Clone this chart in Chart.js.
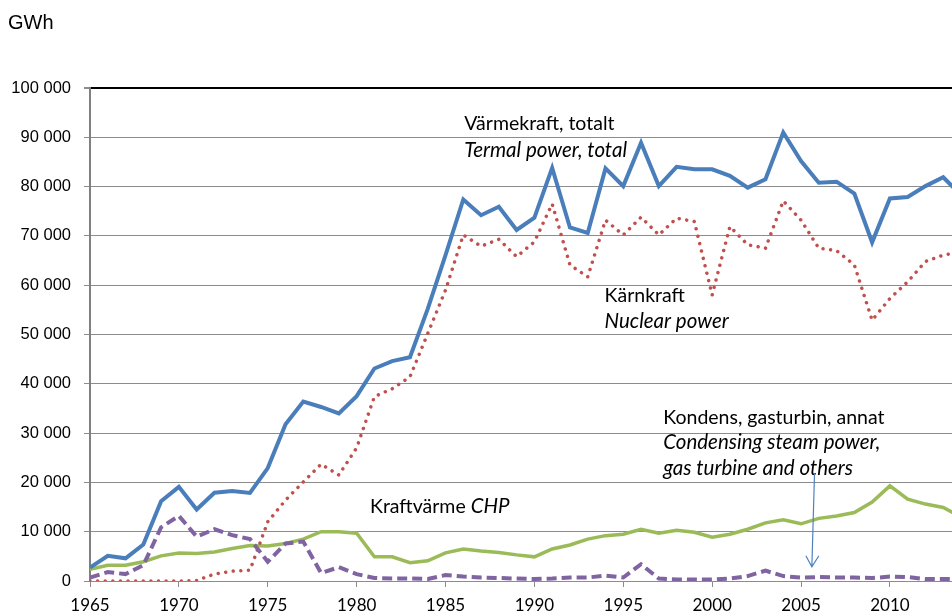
<!DOCTYPE html>
<html><head><meta charset="utf-8">
<script src="https://cdn.jsdelivr.net/npm/chart.js@4.4.1/dist/chart.umd.min.js"></script>
<style>
html,body{margin:0;padding:0;background:#fff;overflow:hidden;width:952px;height:614px}
#wrap{position:absolute;left:0;top:0;width:1000px;height:614px}
</style></head>
<body><div id="wrap"><canvas id="c" width="1000" height="614"></canvas></div>
<script>
const years = [];
for (let y = 1965; y <= 2014; y++) years.push(y);

const thermalTotal = [2700,5100,4600,7400,16200,19100,14500,17900,18250,17850,
  22900,31800,36400,35300,34000,37500,43100,44600,45400,55200,
  66100,77400,74200,75900,71200,73700,83800,71700,70600,83700,
  80100,88900,80100,84000,83500,83500,82200,79800,81500,91000,
  85200,80800,81000,78600,68700,77600,77900,80100,81900,78300];
const nuclear = [0,0,0,0,0,0,100,1400,2000,2200,
  12000,16400,20100,23700,21500,27000,37400,39000,41400,50200,
  59000,70200,67900,69300,65800,68800,76500,64100,61700,73200,
  70200,73800,70200,73600,72900,58000,71900,68200,67500,77100,
  73200,67500,67000,64100,52900,57300,60700,64800,66100,66800];
const chp = [2400,3200,3200,3900,5100,5700,5600,5900,6600,7200,
  7100,7600,8500,10000,10000,9700,4900,4900,3700,4100,
  5700,6500,6100,5800,5300,4900,6500,7300,8500,9200,
  9500,10500,9700,10300,9900,8900,9500,10500,11800,12400,
  11600,12700,13200,13900,16000,19300,16600,15600,14900,13000];
const condensing = [700,1800,1400,3200,10900,13200,9000,10500,9300,8500,
  3900,7600,8000,1600,2800,1400,600,500,500,400,
  1200,900,700,600,500,400,500,700,700,1100,
  700,3400,500,300,300,300,500,1000,2100,1000,
  700,800,700,700,600,900,800,400,400,400];
const yTicks = [0,10000,20000,30000,40000,50000,60000,70000,80000,90000,100000];
const xTicks = [1965,1970,1975,1980,1985,1990,1995,2000,2005,2010];

const pts = arr => arr.map((v,i)=>({x:years[i], y:v}));
const fmt = v => String(v).replace(/\B(?=(\d{3})+(?!\d))/g, ' ');

const annot = {
  id:'annot',
  afterDraw(chart){
    const {ctx, scales:{x, y}} = chart;
    const F = '"Lato", "Open Sans", sans-serif';
    const items = [
      {yr:1986.05, v:91480, parts:[['Värmekraft, totalt','']]},
      {yr:1986.05, v:86000, parts:[['Termal power, total','italic ']]},
      {yr:1993.95, v:56500, parts:[['Kärnkraft','']]},
      {yr:1993.95, v:51300, parts:[['Nuclear power','italic ']]},
      {yr:1997.25, v:31800, parts:[['Kondens, gasturbin, annat','']]},
      {yr:1997.25, v:26700, parts:[['Condensing steam power,','italic ']]},
      {yr:1997.25, v:21600, parts:[['gas turbine and others','italic ']]},
      {yr:1980.75, v:13800, parts:[['Kraftvärme ',''],['CHP','italic ']]}
    ];
    ctx.save();
    ctx.fillStyle = '#000';
    ctx.textBaseline = 'alphabetic';
    ctx.textAlign = 'left';
    for (const it of items){
      let px = x.getPixelForValue(it.yr);
      const py = y.getPixelForValue(it.v);
      for (const [t, st] of it.parts){
        ctx.font = st + (st ? 20.5 : 19.5) + 'px ' + F;
        ctx.fillText(t, px, py);
        px += ctx.measureText(t).width;
      }
    }
    // GWh unit label
    ctx.font = '20px "Liberation Sans", Arial, sans-serif';
    ctx.fillText('GWh', 8, 29);
    // arrow
    const ax0 = x.getPixelForValue(2005.76), ay0 = y.getPixelForValue(21900);
    const ax1 = x.getPixelForValue(2005.61), ay1 = y.getPixelForValue(2900);
    ctx.strokeStyle = '#4F81BD';
    ctx.lineWidth = 1.2;
    ctx.beginPath();
    ctx.moveTo(ax0, ay0); ctx.lineTo(ax1, ay1);
    ctx.moveTo(ax1-6, ay1-11); ctx.lineTo(ax1, ay1); ctx.lineTo(ax1+7, ay1-11);
    ctx.stroke();
    ctx.restore();
  }
};

new Chart(document.getElementById('c'), {
  type:'line',
  data:{datasets:[
    {data:pts(thermalTotal), borderColor:'#4A7EBB', borderWidth:4, pointRadius:0, tension:0, borderJoinStyle:'miter'},
    {data:pts(condensing), borderColor:'#8064A2', borderWidth:4, pointRadius:0, tension:0, borderDash:[10,5]},
    {data:pts(nuclear), borderColor:'#C0504D', borderWidth:3.5, pointRadius:0, tension:0, borderDash:[0.01,7.6], borderCapStyle:'round'},
    {data:pts(chp), borderColor:'#9BBB59', borderWidth:3.5, pointRadius:0, tension:0}
  ]},
  options:{
    responsive:false, animation:false, devicePixelRatio:1,
    layout:{padding:{left:0, right:39, top:88, bottom:0}},
    plugins:{legend:{display:false}, tooltip:{enabled:false}},
    scales:{
      x:{type:'linear', min:1965, max:2014,
        afterBuildTicks: s => { s.ticks = xTicks.map(v=>({value:v})); },
        afterFit: s => { s.height = 33; },
        ticks:{callback:v=>String(v), color:'#000', font:{family:'"Lato", sans-serif', size:17}, padding:8, maxRotation:0, autoSkip:false},
        grid:{drawOnChartArea:false, tickLength:6, color:'#8c8c8c'},
        border:{color:'#8c8c8c', width:1}
      },
      y:{min:0, max:100000,
        afterBuildTicks: s => { s.ticks = yTicks.map(v=>({value:v})); },
        afterFit: s => { s.width = 90; },
        ticks:{callback:v=>fmt(v), color:'#000', font:{family:'"Liberation Sans", Arial, sans-serif', size:16.5}, padding:13},
        grid:{color:c=>c.tick && c.tick.value===100000 ? '#000' : '#8c8c8c', lineWidth:c=>c.tick && c.tick.value===100000 ? 2 : 1, tickColor:'#8c8c8c', tickLength:6},
        border:{color:'#808080', width:2}
      }
    }
  },
  plugins:[annot]
});
</script></body></html>
